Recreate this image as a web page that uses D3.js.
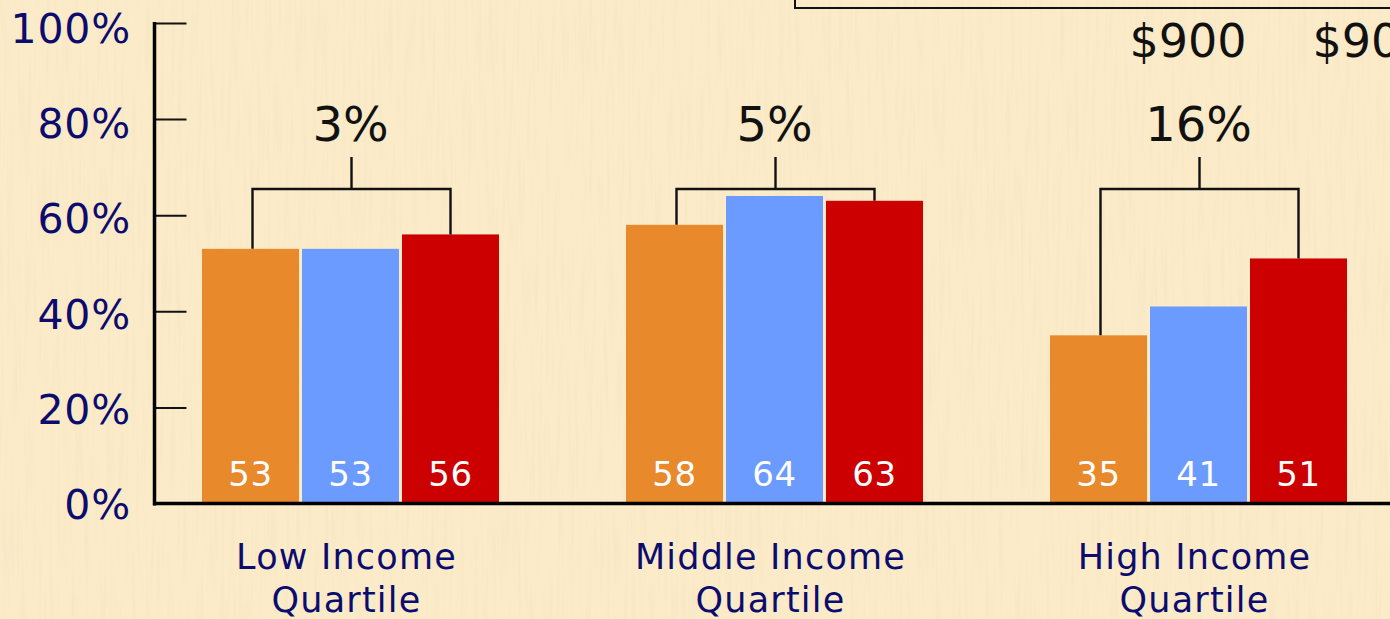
<!DOCTYPE html>
<html>
<head>
<meta charset="utf-8">
<script src="https://cdn.jsdelivr.net/npm/d3@7"></script>
<style>
  html, body { margin: 0; padding: 0; background: #fbebc9; overflow: hidden; }
  svg { display: block; }
</style>
</head>
<body>
<svg id="chart"></svg>
<script>
// groups along the x axis (two text lines each)
const categories = ["Low Income Quartile", "Middle Income Quartile", "High Income Quartile"];
const categoryLines = [["Low Income", "Quartile"], ["Middle Income", "Quartile"], ["High Income", "Quartile"]];
// three series per group, percentages
const seriesKeys = ["first", "second", "third"];
const firstValues = [53, 58, 35];
const secondValues = [53, 64, 41];
const thirdValues = [56, 63, 51];
// gap between first and third bar, shown above each bracket
const gapLabels = ["3%", "5%", "16%"];
const yTicks = [0, 20, 40, 60, 80, 100];
// labels from the panel above (cut off in the picture)
const topLabels = ["$900", "$900"];

const width = 1390, height = 619;
const colors = { first: "#e8892c", second: "#6b9bff", third: "#cc0000" };
const navy = "#0c0c6e";

const svg = d3.select("#chart").attr("width", width).attr("height", height);

// textured paper background
const defs = svg.append("defs");
const f = defs.append("filter").attr("id", "grain")
  .attr("x", 0).attr("y", 0).attr("width", "100%").attr("height", "100%");
f.append("feTurbulence").attr("type", "fractalNoise")
  .attr("baseFrequency", "0.28 0.012").attr("numOctaves", 2).attr("seed", 7);
f.append("feColorMatrix").attr("type", "matrix")
  .attr("values", "0 0 0 0 0.86  0 0 0 0 0.72  0 0 0 0 0.50  0 0 0 1.1 -0.5");
svg.append("rect").attr("width", width).attr("height", height).attr("fill", "#fbebc9");
svg.append("rect").attr("width", width).attr("height", height)
  .attr("filter", "url(#grain)").attr("opacity", 0.6);

const rows = categories.map((c, i) => ({
  cat: c,
  first: firstValues[i],
  second: secondValues[i],
  third: thirdValues[i]
}));

const x = d3.scaleBand().domain(categories).range([138.5, 1410.5]);
const xi = d3.scaleBand().domain(seriesKeys).range([63.5, 360.5]).paddingInner(0.03);
const y = d3.scaleLinear().domain([0, 100]).range([503.5, 23]);

// top panel remnant
svg.append("path")
  .attr("d", "M795,0 V8 H1392")
  .attr("fill", "none").attr("stroke", "#111").attr("stroke-width", 2);
svg.selectAll("text.top").data(topLabels).enter().append("text")
  .attr("class", "top")
  .attr("x", (d, i) => [1188, 1371][i])
  .attr("y", 57)
  .attr("text-anchor", "middle")
  .attr("font-family", "DejaVu Sans, Verdana, sans-serif")
  .attr("font-size", 46)
  .attr("fill", "#111")
  .text(d => d);

// bars
const g = svg.selectAll("g.group").data(rows).enter().append("g")
  .attr("class", "group")
  .attr("transform", d => `translate(${x(d.cat)},0)`);

g.selectAll("rect").data(d => seriesKeys.map(k => ({ key: k, value: d[k] }))).enter()
  .append("rect")
  .attr("x", d => xi(d.key))
  .attr("y", d => y(d.value))
  .attr("width", xi.bandwidth())
  .attr("height", d => y(0) - y(d.value))
  .attr("fill", d => colors[d.key]);

g.selectAll("text.val").data(d => seriesKeys.map(k => ({ key: k, value: d[k] }))).enter()
  .append("text")
  .attr("class", "val")
  .attr("x", d => xi(d.key) + xi.bandwidth() / 2)
  .attr("y", 486)
  .attr("text-anchor", "middle")
  .attr("font-family", "DejaVu Sans, Verdana, sans-serif")
  .attr("font-size", 34)
  .attr("letter-spacing", 0.5)
  .attr("fill", "#fff")
  .text(d => d.value);

// brackets
const bracketY = 189, stemTop = 157;
g.append("path")
  .attr("d", d => {
    const x1 = xi("first") + xi.bandwidth() / 2 + 2;
    const x2 = xi("third") + xi.bandwidth() / 2;
    const xm = (x1 + x2) / 2;
    return `M${x1},${y(d.first)} V${bracketY} H${x2} V${y(d.third)} M${xm},${bracketY} V${stemTop}`;
  })
  .attr("fill", "none").attr("stroke", "#111").attr("stroke-width", 2.4);

g.append("text")
  .attr("x", xi("second") + xi.bandwidth() / 2)
  .attr("y", 141)
  .attr("text-anchor", "middle")
  .attr("font-family", "DejaVu Sans, Verdana, sans-serif")
  .attr("font-size", 48)
  .attr("fill", "#111")
  .text((d, i) => gapLabels[i]);

// category labels
g.each(function(d, i) {
  const t = d3.select(this).append("text")
    .attr("text-anchor", "middle")
    .attr("font-family", "DejaVu Sans, Verdana, sans-serif")
    .attr("font-size", 35)
    .attr("letter-spacing", 1.2)
    .attr("fill", navy);
  categoryLines[i].forEach((line, j) => {
    t.append("tspan")
      .attr("x", x.bandwidth() / 2 - 4)
      .attr("y", 569 + j * 43)
      .text(line);
  });
});

// y axis
const yAxis = svg.append("g")
  .attr("transform", "translate(154.5,0)")
  .call(d3.axisRight(y).tickValues(yTicks).tickSize(32).tickFormat(""));
yAxis.select(".domain").remove();
yAxis.selectAll(".tick line").attr("stroke", "#111").attr("stroke-width", 2);

svg.append("line")
  .attr("x1", 154.5).attr("x2", 154.5)
  .attr("y1", y(100) - 1).attr("y2", y(0) + 2)
  .attr("stroke", "#000").attr("stroke-width", 3.5);
svg.append("line")
  .attr("x1", 153).attr("x2", width)
  .attr("y1", y(0)).attr("y2", y(0))
  .attr("stroke", "#000").attr("stroke-width", 3.5);

svg.selectAll("text.ytick").data(yTicks).enter().append("text")
  .attr("class", "ytick")
  .attr("x", 131)
  .attr("y", d => y(d) + 20 - (100 - d) * 0.045)
  .attr("text-anchor", "end")
  .attr("font-family", "DejaVu Sans, Verdana, sans-serif")
  .attr("font-size", 41)
  .attr("letter-spacing", 0.8)
  .attr("fill", navy)
  .text(d => d + "%");
</script>
</body>
</html>
